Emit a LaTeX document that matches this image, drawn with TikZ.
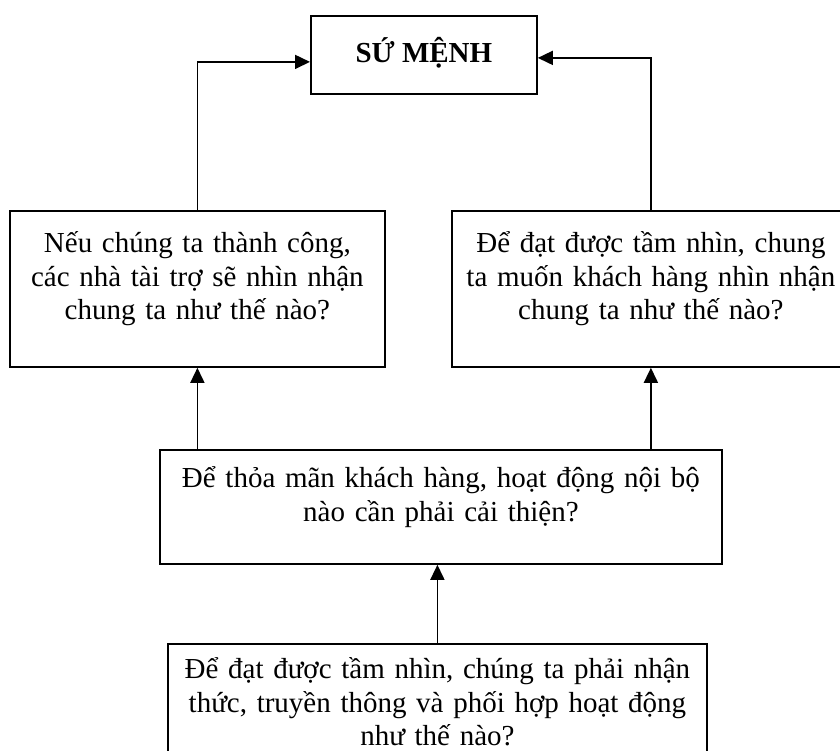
\documentclass[tikz,border=0pt]{standalone}
\usepackage{fontspec}
\setmainfont{Liberation Serif}
\usetikzlibrary{arrows.meta, positioning}

\begin{document}
\begin{tikzpicture}[x=1pt, y=-1pt]
    % Define styles
    \tikzset{
        box/.style={rectangle, draw=black, line width=1.8pt, inner sep=0pt, align=center, font=\fontsize{29}{33.5}\selectfont},
        mission/.style={box, minimum width=226pt, text height=47pt, text depth=31pt, font=\fontsize{29}{33.5}\selectfont\bfseries},
        perspective/.style={box, text height=42pt, text depth=114pt},
        process/.style={box, text width=562pt, text height=38pt, text depth=76pt},
        learning/.style={box, text width=539pt, text height=35pt, text depth=122pt},
        link/.style={line width=1.6pt, -{Triangle[length=15pt, width=14pt]}}
    }
    \useasboundingbox (0,0) rectangle (840,751);
    \clip (0,0) rectangle (840,751);

    % Nodes
    \node[mission, anchor=north west] (mission) at (310,15) {SỨ MỆNH};

    \node[perspective, text width=375pt, anchor=north west] (donors) at (9,210)
        {Nếu chúng ta thành công,\\các nhà tài trợ sẽ nhìn nhận\\chung ta như thế nào?};
    \node[perspective, text width=398pt, anchor=north west] (customers) at (451,210)
        {Để đạt được tầm nhìn, chung\\ta muốn khách hàng nhìn nhận\\chung ta như thế nào?};

    \node[process, anchor=north west] (internal) at (159,449)
        {Để thỏa mãn khách hàng, hoạt động nội bộ\\nào cần phải cải thiện?};
    \node[learning, anchor=north west] (growth) at (167,643)
        {Để đạt được tầm nhìn, chúng ta phải nhận\\thức, truyền thông và phối hợp hoạt động\\như thế nào?};

    % Arrows
    \draw[link] (donors.north) |- ([yshift=-7pt]mission.west);
    \draw[link] (customers.north) |- ([yshift=-3pt]mission.east);

    \draw[link] (internal.north -| donors.south) -- (donors.south);
    \draw[link] (internal.north -| customers.south) -- (customers.south);

    \draw[link] (growth.north) -- (growth.north |- internal.south);
\end{tikzpicture}
\end{document}
